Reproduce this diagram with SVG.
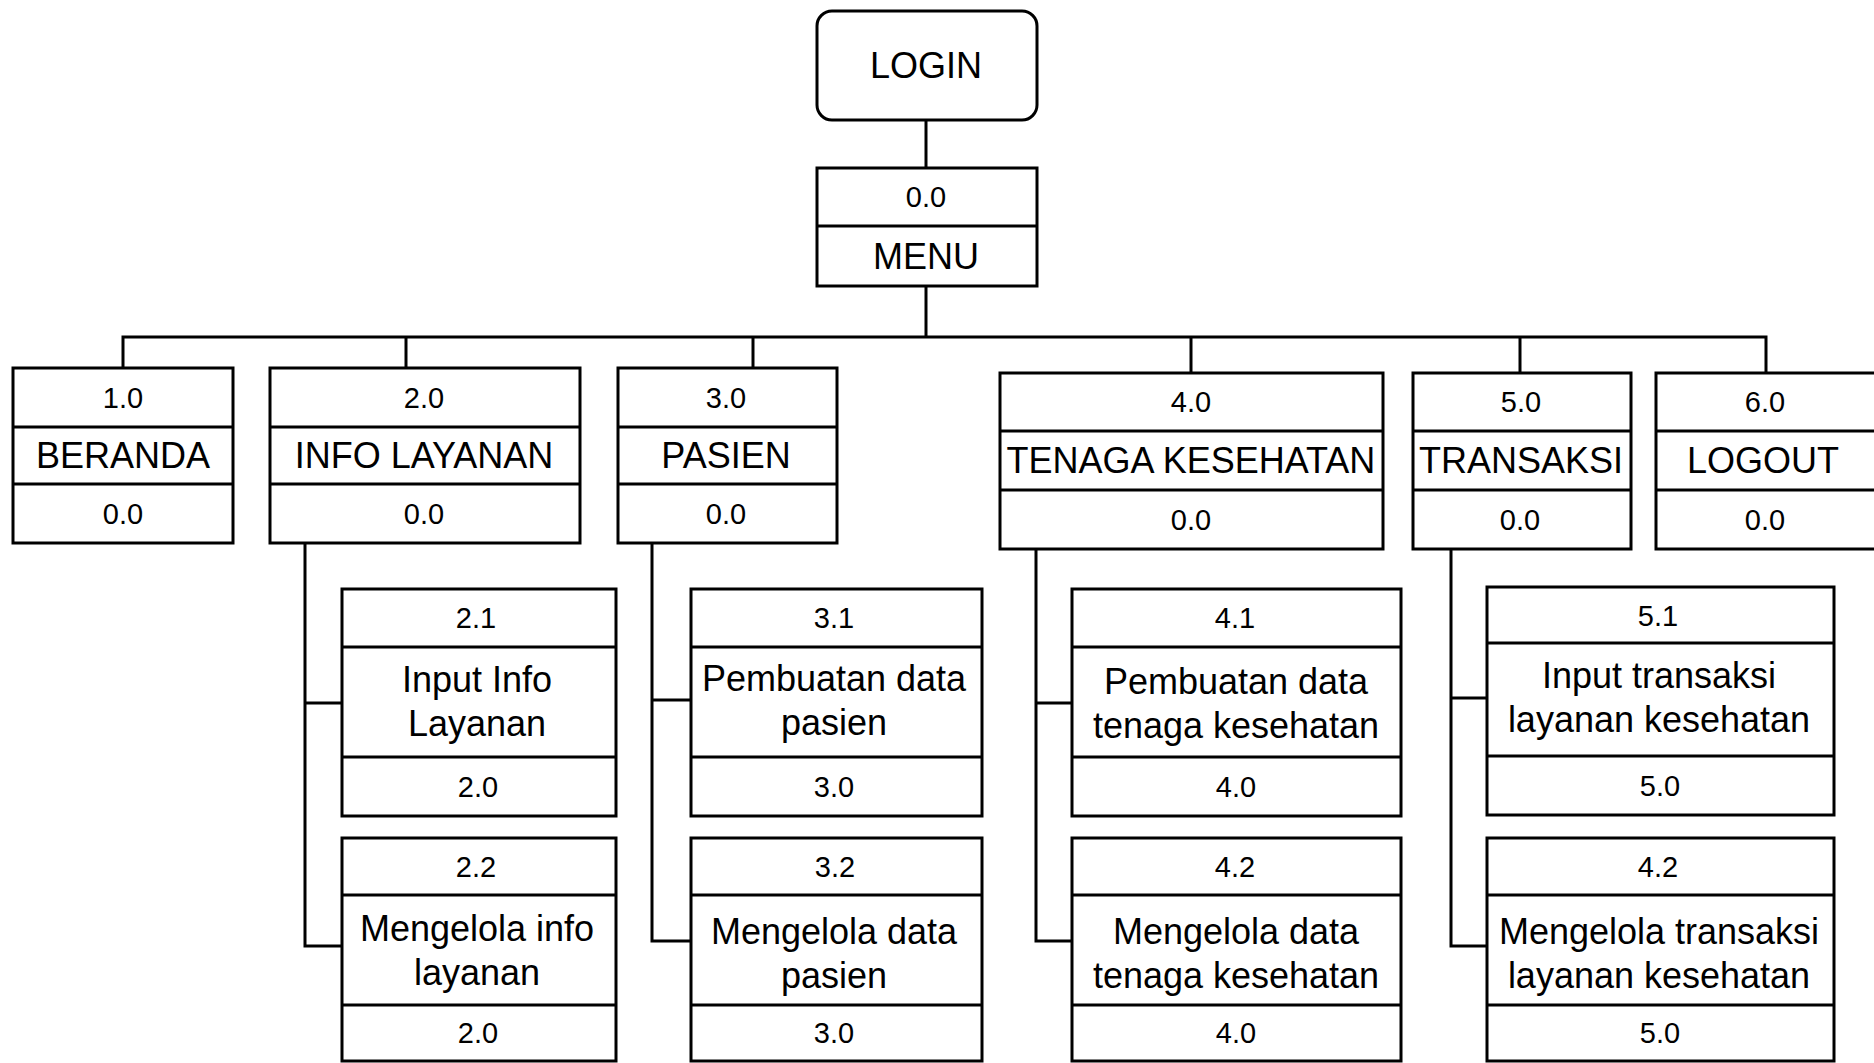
<svg xmlns="http://www.w3.org/2000/svg" width="1874" height="1063" viewBox="0 0 1874 1063">
  <style>
    .box { fill: #ffffff; stroke: #000000; stroke-width: 3; }
    .div { stroke: #000000; stroke-width: 3; fill: none; }
    .wire { stroke: #000000; stroke-width: 3; fill: none; }
    .t { font-family: "Liberation Sans", Arial, Helvetica, sans-serif; font-size: 36px; fill: #000000; text-anchor: middle; }
    .n { font-family: "Liberation Sans", Arial, Helvetica, sans-serif; font-size: 29px; fill: #000000; text-anchor: middle; }
  </style>
  <rect x="0" y="0" width="1874" height="1063" fill="#ffffff"/>

  <!-- connectors -->
  <g id="connectors">
    <path class="wire" d="M926,120 V168"/>
    <path class="wire" d="M926,286 V337"/>
    <path class="wire" d="M123,368 V337 H1766 V373"/>
    <path class="wire" d="M406,337 V368"/>
    <path class="wire" d="M753,337 V368"/>
    <path class="wire" d="M1191,337 V373"/>
    <path class="wire" d="M1520,337 V373"/>
    <!-- info layanan branch -->
    <path class="wire" d="M305,543 V946 H342 M305,703 H342"/>
    <!-- pasien branch -->
    <path class="wire" d="M652,543 V941 H691 M652,700 H691"/>
    <!-- tenaga kesehatan branch -->
    <path class="wire" d="M1036,549 V941 H1072 M1036,703 H1072"/>
    <!-- transaksi branch -->
    <path class="wire" d="M1451,549 V946 H1487 M1451,698 H1487"/>
  </g>

  <!-- top -->
  <g id="login">
    <rect class="box" x="817" y="11" width="220" height="109" rx="15" ry="15"/>
    <text class="t" x="926" y="78">LOGIN</text>
  </g>
  <g id="menu">
    <rect class="box" x="817" y="168" width="220" height="118"/>
    <line class="div" x1="817" y1="226" x2="1037" y2="226"/>
    <text class="n" x="926" y="207">0.0</text>
    <text class="t" x="926" y="269">MENU</text>
  </g>

  <!-- level 1 -->
  <g id="beranda">
    <rect class="box" x="13" y="368" width="220" height="175"/>
    <line class="div" x1="13" y1="427" x2="233" y2="427"/>
    <line class="div" x1="13" y1="484" x2="233" y2="484"/>
    <text class="n" x="123" y="408">1.0</text>
    <text class="t" x="123" y="468">BERANDA</text>
    <text class="n" x="123" y="524">0.0</text>
  </g>
  <g id="info-layanan">
    <rect class="box" x="270" y="368" width="310" height="175"/>
    <line class="div" x1="270" y1="427" x2="580" y2="427"/>
    <line class="div" x1="270" y1="484" x2="580" y2="484"/>
    <text class="n" x="424" y="408">2.0</text>
    <text class="t" x="424" y="468">INFO LAYANAN</text>
    <text class="n" x="424" y="524">0.0</text>
  </g>
  <g id="pasien">
    <rect class="box" x="618" y="368" width="219" height="175"/>
    <line class="div" x1="618" y1="427" x2="837" y2="427"/>
    <line class="div" x1="618" y1="484" x2="837" y2="484"/>
    <text class="n" x="726" y="408">3.0</text>
    <text class="t" x="726" y="468">PASIEN</text>
    <text class="n" x="726" y="524">0.0</text>
  </g>
  <g id="tenaga-kesehatan">
    <rect class="box" x="1000" y="373" width="383" height="176"/>
    <line class="div" x1="1000" y1="431" x2="1383" y2="431"/>
    <line class="div" x1="1000" y1="490" x2="1383" y2="490"/>
    <text class="n" x="1191" y="412">4.0</text>
    <text class="t" x="1191" y="473">TENAGA KESEHATAN</text>
    <text class="n" x="1191" y="530">0.0</text>
  </g>
  <g id="transaksi">
    <rect class="box" x="1413" y="373" width="218" height="176"/>
    <line class="div" x1="1413" y1="431" x2="1631" y2="431"/>
    <line class="div" x1="1413" y1="490" x2="1631" y2="490"/>
    <text class="n" x="1521" y="412">5.0</text>
    <text class="t" x="1521" y="473">TRANSAKSI</text>
    <text class="n" x="1520" y="530">0.0</text>
  </g>
  <g id="logout">
    <rect class="box" x="1656" y="373" width="220" height="176"/>
    <line class="div" x1="1656" y1="431" x2="1876" y2="431"/>
    <line class="div" x1="1656" y1="490" x2="1876" y2="490"/>
    <text class="n" x="1765" y="412">6.0</text>
    <text class="t" x="1763" y="473">LOGOUT</text>
    <text class="n" x="1765" y="530">0.0</text>
  </g>

  <!-- level 2 : info layanan -->
  <g id="input-info-layanan">
    <rect class="box" x="342" y="589" width="274" height="227"/>
    <line class="div" x1="342" y1="647" x2="616" y2="647"/>
    <line class="div" x1="342" y1="757" x2="616" y2="757"/>
    <text class="n" x="476" y="628">2.1</text>
    <text class="t" x="477" y="692">Input Info</text>
    <text class="t" x="477" y="736">Layanan</text>
    <text class="n" x="478" y="797">2.0</text>
  </g>
  <g id="mengelola-info-layanan">
    <rect class="box" x="342" y="838" width="274" height="223"/>
    <line class="div" x1="342" y1="895" x2="616" y2="895"/>
    <line class="div" x1="342" y1="1005" x2="616" y2="1005"/>
    <text class="n" x="476" y="877">2.2</text>
    <text class="t" x="477" y="941">Mengelola info</text>
    <text class="t" x="477" y="985">layanan</text>
    <text class="n" x="478" y="1043">2.0</text>
  </g>

  <!-- level 2 : pasien -->
  <g id="pembuatan-data-pasien">
    <rect class="box" x="691" y="589" width="291" height="227"/>
    <line class="div" x1="691" y1="647" x2="982" y2="647"/>
    <line class="div" x1="691" y1="757" x2="982" y2="757"/>
    <text class="n" x="834" y="628">3.1</text>
    <text class="t" x="834" y="691">Pembuatan data</text>
    <text class="t" x="834" y="735">pasien</text>
    <text class="n" x="834" y="797">3.0</text>
  </g>
  <g id="mengelola-data-pasien">
    <rect class="box" x="691" y="838" width="291" height="223"/>
    <line class="div" x1="691" y1="895" x2="982" y2="895"/>
    <line class="div" x1="691" y1="1005" x2="982" y2="1005"/>
    <text class="n" x="835" y="877">3.2</text>
    <text class="t" x="834" y="944">Mengelola data</text>
    <text class="t" x="834" y="988">pasien</text>
    <text class="n" x="834" y="1043">3.0</text>
  </g>

  <!-- level 2 : tenaga kesehatan -->
  <g id="pembuatan-data-tenaga">
    <rect class="box" x="1072" y="589" width="329" height="227"/>
    <line class="div" x1="1072" y1="647" x2="1401" y2="647"/>
    <line class="div" x1="1072" y1="757" x2="1401" y2="757"/>
    <text class="n" x="1235" y="628">4.1</text>
    <text class="t" x="1236" y="694">Pembuatan data</text>
    <text class="t" x="1236" y="738">tenaga kesehatan</text>
    <text class="n" x="1236" y="797">4.0</text>
  </g>
  <g id="mengelola-data-tenaga">
    <rect class="box" x="1072" y="838" width="329" height="223"/>
    <line class="div" x1="1072" y1="895" x2="1401" y2="895"/>
    <line class="div" x1="1072" y1="1005" x2="1401" y2="1005"/>
    <text class="n" x="1235" y="877">4.2</text>
    <text class="t" x="1236" y="944">Mengelola data</text>
    <text class="t" x="1236" y="988">tenaga kesehatan</text>
    <text class="n" x="1236" y="1043">4.0</text>
  </g>

  <!-- level 2 : transaksi -->
  <g id="input-transaksi">
    <rect class="box" x="1487" y="587" width="347" height="228"/>
    <line class="div" x1="1487" y1="643" x2="1834" y2="643"/>
    <line class="div" x1="1487" y1="756" x2="1834" y2="756"/>
    <text class="n" x="1658" y="626">5.1</text>
    <text class="t" x="1659" y="688">Input transaksi</text>
    <text class="t" x="1659" y="732">layanan kesehatan</text>
    <text class="n" x="1660" y="796">5.0</text>
  </g>
  <g id="mengelola-transaksi">
    <rect class="box" x="1487" y="838" width="347" height="223"/>
    <line class="div" x1="1487" y1="895" x2="1834" y2="895"/>
    <line class="div" x1="1487" y1="1005" x2="1834" y2="1005"/>
    <text class="n" x="1658" y="877">4.2</text>
    <text class="t" x="1659" y="944">Mengelola transaksi</text>
    <text class="t" x="1659" y="988">layanan kesehatan</text>
    <text class="n" x="1660" y="1043">5.0</text>
  </g>
</svg>
